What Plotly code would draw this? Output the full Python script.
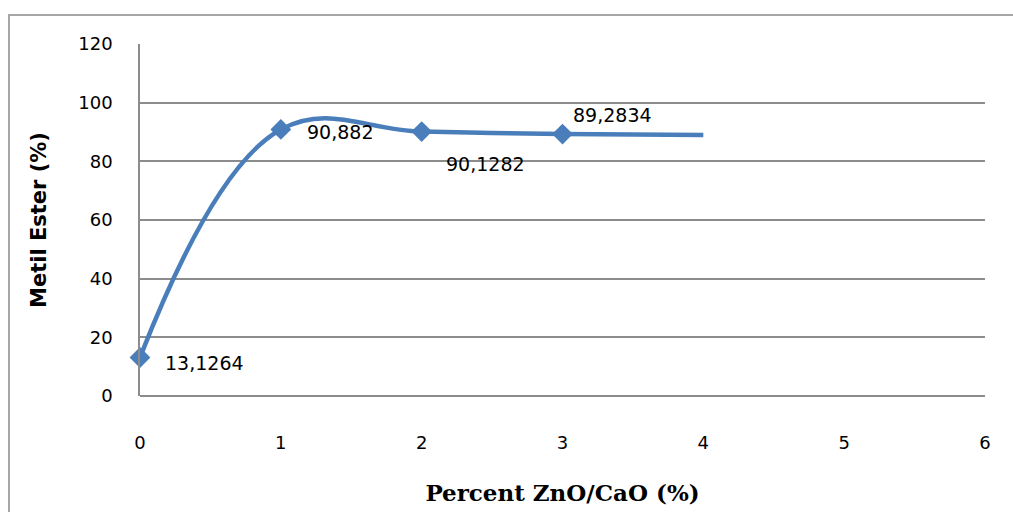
import plotly.graph_objects as go

# Catalyst loading (%) and methyl ester yield (%)
loading = [0, 1, 2, 3, 4]
yield_pct = [13.1264, 90.882, 90.1282, 89.2834, 89.0]
point_labels = ["13,1264", "90,882", "90,1282", "89,2834"]
# pixel offsets of each value label from its point
label_dx = [23, 24, 22, 8]
label_dy = [-5, -3, -32, 19]

x_ticks = [0, 1, 2, 3, 4, 5, 6]
y_ticks = [0, 20, 40, 60, 80, 100, 120]

W, H = 1013, 512
ML, MR, MT, MB = 140, 28, 44, 116
pw, ph = W - ML - MR, H - MT - MB

blue = "#4a7ebb"
grid = "#8c8c8c"
sans = "DejaVu Sans"

fig = go.Figure()
fig.add_trace(go.Scatter(
    x=loading, y=yield_pct,
    mode="lines",
    line=dict(color=blue, width=4.5, shape="spline", smoothing=1.15),
    hoverinfo="skip", showlegend=False, cliponaxis=False,
))
fig.add_trace(go.Scatter(
    x=loading[:4], y=yield_pct[:4],
    mode="markers",
    marker=dict(symbol="diamond", size=16, color=blue),
    showlegend=False, cliponaxis=False,
))

for xv, yv, txt, dx, dy in zip(loading, yield_pct, point_labels, label_dx, label_dy):
    fig.add_annotation(x=xv, y=yv, text=txt, showarrow=False,
                       xanchor="left", yanchor="middle",
                       xshift=dx, yshift=dy,
                       font=dict(family=sans, size=19, color="#000000"))

fig.update_xaxes(
    range=[0, 6], tickvals=x_ticks, ticks="", showgrid=False,
    showline=False, zeroline=False,
    tickfont=dict(family=sans, size=18, color="#000000"),
    ticklabelstandoff=34,
    title=dict(text="<b>Percent ZnO/CaO (%)</b>", standoff=32,
               font=dict(family="DejaVu Serif", size=23, color="#000000")),
)
fig.update_yaxes(
    range=[0, 120], tickvals=y_ticks, ticks="", showgrid=True,
    gridcolor=grid, gridwidth=1.5, showline=True, linecolor=grid, linewidth=1.5,
    zeroline=True, zerolinecolor=grid, zerolinewidth=1.5,
    tickfont=dict(family=sans, size=18, color="#000000"),
    ticklabelstandoff=22,
    title=dict(text="<b>Metil Ester (%)</b>", standoff=26,
               font=dict(family=sans, size=21, color="#000000")),
)

# outer chart frame
fig.add_shape(type="rect", xref="paper", yref="paper",
              x0=(9 - ML) / pw, x1=(W + 20 - ML) / pw,
              y0=(MB - H - 20) / ph, y1=(H - MB - 15) / ph,
              line=dict(color="#a6a6a6", width=2), layer="below")

fig.update_layout(
    width=W, height=H,
    margin=dict(l=ML, r=MR, t=MT, b=MB),
    paper_bgcolor="white", plot_bgcolor="white",
)

fig.write_html("out.html")
